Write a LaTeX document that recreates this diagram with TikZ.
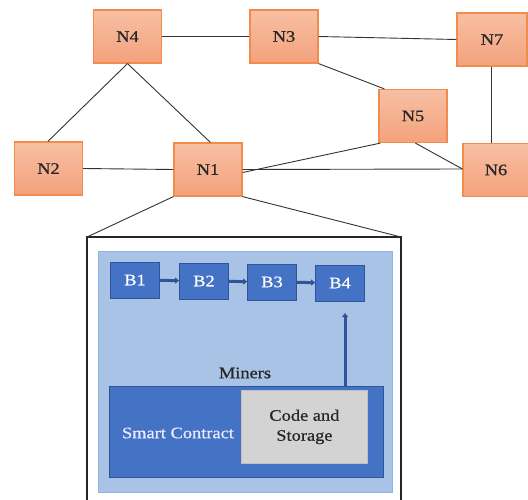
\documentclass[tikz,border=0pt]{standalone}
\usepackage{fontspec}
\setmainfont{Liberation Serif}[FakeStretch=1.15,FakeBold=0.6]
\usetikzlibrary{arrows.meta}
\definecolor{nodefillTop}{HTML}{F8BFA3}
\definecolor{nodefillBot}{HTML}{F3A27C}
\definecolor{nodeborder}{HTML}{F28C4E}
\definecolor{panelblue}{HTML}{A8C3E6}
\definecolor{panelborder}{HTML}{8FB4E3}
\definecolor{darkblue}{HTML}{4472C4}
\definecolor{blockborder}{HTML}{2F5597}
\definecolor{graybox}{HTML}{D3D3D3}
\begin{document}
\begin{tikzpicture}[x=1pt,y=-1pt,
  txt/.style={font=\fontsize{16}{19}\selectfont},
  netnode/.style={draw=nodeborder,line width=1.2pt,top color=nodefillTop,bottom color=nodefillBot,
    minimum width=68pt,minimum height=53pt,inner sep=0pt,txt,text=black!85},
  link/.style={draw=black!80,line width=0.9pt},
  block/.style={draw=blockborder,fill=darkblue,line width=0.8pt,minimum width=49pt,minimum height=36pt,
    inner sep=0pt,text=white,txt},
  chain/.style={draw=blockborder,line width=3pt,-{Triangle[length=4pt,width=6pt]}}]
\useasboundingbox (0,0) rectangle (528,500);
% network nodes
\node[netnode] (N4) at (127.5,36.5) {N4};
\node[netnode] (N3) at (284,36.5) {N3};
\node[netnode,minimum width=70pt] (N7) at (492,39.5) {N7};
\node[netnode] (N5) at (413,116) {N5};
\node[netnode] (N2) at (48.5,168.5) {N2};
\node[netnode] (N1) at (208,169.5) {N1};
\node[netnode,minimum width=66pt] (N6) at (496,170) {N6};
% links
\draw[link] (N4.east) -- (N3.west);
\draw[link] (N3.east) -- (N7.west);
\draw[link] (N3.south east) -- ([xshift=6pt]N5.north west);
\draw[link] (N4.south) -- ([xshift=34pt]N2.north west);
\draw[link] (N4.south) -- ([xshift=37pt]N1.north west);
\draw[link] (N2.east) -- (N1.west);
\draw[link] ([yshift=-3pt]N1.east) -- ([xshift=2pt]N5.south west);
\draw[link] (N1.east) -- ([yshift=1pt]N6.west);
\draw[link] ([xshift=37pt]N5.south west) -- ([yshift=1pt]N6.west);
\draw[link] ([xshift=-1pt]N7.south) -- ([xshift=-5pt]N6.north);
% zoom box
\coordinate (BL) at (87,503);
\coordinate (TL) at (87,237);
\coordinate (TR) at (401,237);
\coordinate (BR) at (401,503);
\draw[line width=1.2pt,black!85] (BL) -- (TL) -- (TR) -- (BR);
\draw[link] (N1.south west) -- (TL);
\draw[link] (N1.south east) -- (TR);
% panel
\node[draw=panelborder,fill=panelblue,line width=0.8pt,minimum width=294pt,minimum height=241pt,inner sep=0pt,
  anchor=north west] (panel) at (98,251) {};
% blocks
\node[block] (B1) at (135,280) {B1};
\node[block] (B2) at (204,281) {B2};
\node[block] (B3) at (272,282) {B3};
\node[block] (B4) at (340,283) {B4};
\draw[chain] (B1) -- (B2);
\draw[chain] (B2) -- (B3);
\draw[chain] (B3) -- (B4);
% miners
\node[txt,text=black!85] (miners) at (245,373) {Miners};
\node[draw=blockborder,fill=darkblue,line width=0.8pt,minimum width=274pt,minimum height=91pt,inner sep=0pt,
  anchor=north west] (sc) at (109,386) {};
\node[text=white!92!blue,txt] (sctext) at (178,433) {Smart Contract};
\node[draw=black!25,fill=graybox,line width=0.8pt,minimum width=126pt,minimum height=73pt,inner sep=0pt,
  anchor=north west,align=center,font=\fontsize{16}{20}\selectfont,text=black!85] (cs) at (241,390)
  {Code and\\Storage};
\coordinate (arrtop) at (345,313);
\draw[chain] (345,386) -- (arrtop);
\end{tikzpicture}
\end{document}
